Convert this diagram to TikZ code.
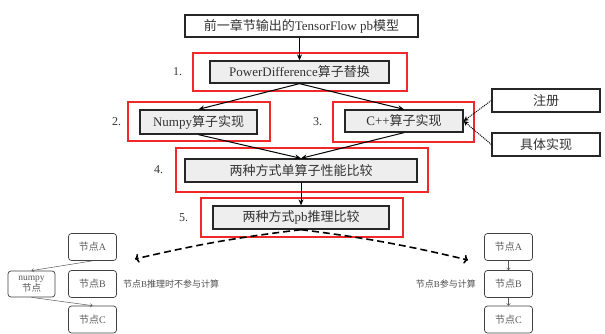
\documentclass[tikz,border=0pt]{standalone}
\usepackage{fontspec}
\setmainfont{Liberation Serif}
\newfontfamily\cjk{Noto Sans CJK SC}
\newcommand{\zh}[1]{{\cjk #1}}
\usetikzlibrary{arrows.meta,positioning}
\definecolor{framered}{RGB}{240,40,40}
\definecolor{boxgray}{RGB}{238,238,238}

\begin{document}
\begin{tikzpicture}[x=1pt,y=-1pt]
    \tikzstyle{every node}=[font=\fontsize{13}{15}\selectfont, text=black!80, inner sep=0pt]
    \tikzstyle{stepbox}=[draw=black!85, line width=1.3pt, fill=boxgray, minimum height=23pt]
    \tikzstyle{redframe}=[draw=framered, line width=1.2pt]
    \tikzstyle{num}=[font=\fontsize{12}{14}\selectfont]
    \tikzstyle{graph node}=[draw=black!75, line width=0.7pt, rounded corners=3pt,
        minimum width=48pt, minimum height=27pt, text=black!65, align=center,
        font=\fontsize{10}{11}\selectfont]
    \tikzstyle{note}=[text=black!70, font=\fontsize{9}{10}\selectfont]
    \tikzstyle{flow}=[line width=1pt, -{Stealth[length=6pt,width=5pt]}]
    \tikzstyle{thin flow}=[draw=black!65, line width=0.5pt, -{To[length=2.5pt,width=4pt]}]
    \useasboundingbox (0,0) rectangle (605,334);

    % main steps
    \node[stepbox, fill=white, minimum width=233pt, minimum height=22pt] (src) at (301.5,26)
        {\zh{前一章节输出的}TensorFlow pb\zh{模型}};
    \node[redframe, minimum width=214pt, minimum height=38pt] (fr1) at (300,72) {};
    \node[stepbox, minimum width=179pt, minimum height=22pt] (pd) at (299.5,72)
        {PowerDifference\zh{算子替换}};
    \node[num, left=10pt of fr1] (n1) {1.};

    \node[redframe, minimum width=142pt, minimum height=39pt] (fr2) at (199,121.5) {};
    \node[stepbox, minimum width=117pt, minimum height=24pt] (np) at (198.5,122)
        {Numpy\zh{算子实现}};
    \node[num, left=6pt of fr2] (n2) {2.};

    \node[redframe, minimum width=141pt, minimum height=40pt] (fr3) at (403.5,122) {};
    \node[stepbox, minimum width=118pt, minimum height=22pt] (cpp) at (404,121)
        {C++\zh{算子实现}};
    \node[num, left=10pt of fr3] (n3) {3.};

    \node[redframe, minimum width=252pt, minimum height=44pt] (fr4) at (302,170) {};
    \node[stepbox, minimum width=232pt] (cmp) at (301,170.5) {\zh{两种方式单算子性能比较}};
    \node[num, left=12pt of fr4] (n4) {4.};

    \node[redframe, minimum width=202pt, minimum height=39pt] (fr5) at (302,217.5) {};
    \node[stepbox, minimum width=176pt] (pb) at (301,217.5) {\zh{两种方式}pb\zh{推理比较}};
    \node[num, left=12pt of fr5] (n5) {5.};

    \node[stepbox, fill=white, minimum width=108pt] (reg) at (546,100.5) {\zh{注册}};
    \node[stepbox, fill=white, minimum width=108pt] (impl) at (546,144.5) {\zh{具体实现}};

    \draw[flow] (pd.north |- src.south) -- (pd.north);
    \draw[flow] (pd.south) -- (np.north);
    \draw[flow] (pd.south) -- (cpp.north);
    \draw[flow] (np.south) -- (cmp.north);
    \draw[flow] (cpp.south) -- (cmp.north);
    \draw[flow] (cmp.south -| pb.north) -- (pb.north);
    \draw[densely dotted, line width=1pt, -{Stealth[length=5pt,width=5pt]}] (reg.west) -- (cpp.east);
    \draw[densely dotted, line width=1pt, -{Stealth[length=5pt,width=5pt]}] (impl.west) -- (cpp.east);

    % numpy case
    \node[graph node] (la) at (92.5,247) {\zh{节点}A};
    \node[graph node] (lb) at (92.5,284) {\zh{节点}B};
    \node[graph node] (lc) at (92.5,319.5) {\zh{节点}C};
    \node[graph node, minimum width=47pt, minimum height=26pt,
        font=\fontsize{9.5}{10}\selectfont] (lnp) at (31.5,284) {numpy\\\zh{节点}};
    \node[note, right=6pt of lb] (lnote) {\zh{节点}B\zh{推理时不参与计算}};
    \draw[thin flow] (la.south) -- (lnp.north);
    \draw[thin flow] (lnp.south) -- (lc.north);

    % c++ case
    \node[graph node] (ra) at (508.5,247) {\zh{节点}A};
    \node[graph node] (rb) at (508.5,284) {\zh{节点}B};
    \node[graph node] (rc) at (508.5,319.5) {\zh{节点}C};
    \node[note, left=8pt of rb] (rnote) {\zh{节点}B\zh{参与计算}};
    \draw[thin flow] (ra) -- (rb);
    \draw[thin flow] (rb) -- (rc);

    \coordinate (lend) at (135,259);
    \coordinate (rend) at (468,260);
    \draw[line width=1.6pt, dash pattern=on 7pt off 4pt, -{To[length=4pt,width=9pt]}]
        (pb.south) to[bend right=3] (lend);
    \draw[line width=1.6pt, dash pattern=on 7pt off 4pt, -{To[length=4pt,width=9pt]}]
        (pb.south) to[bend left=3] (rend);
\end{tikzpicture}
\end{document}
